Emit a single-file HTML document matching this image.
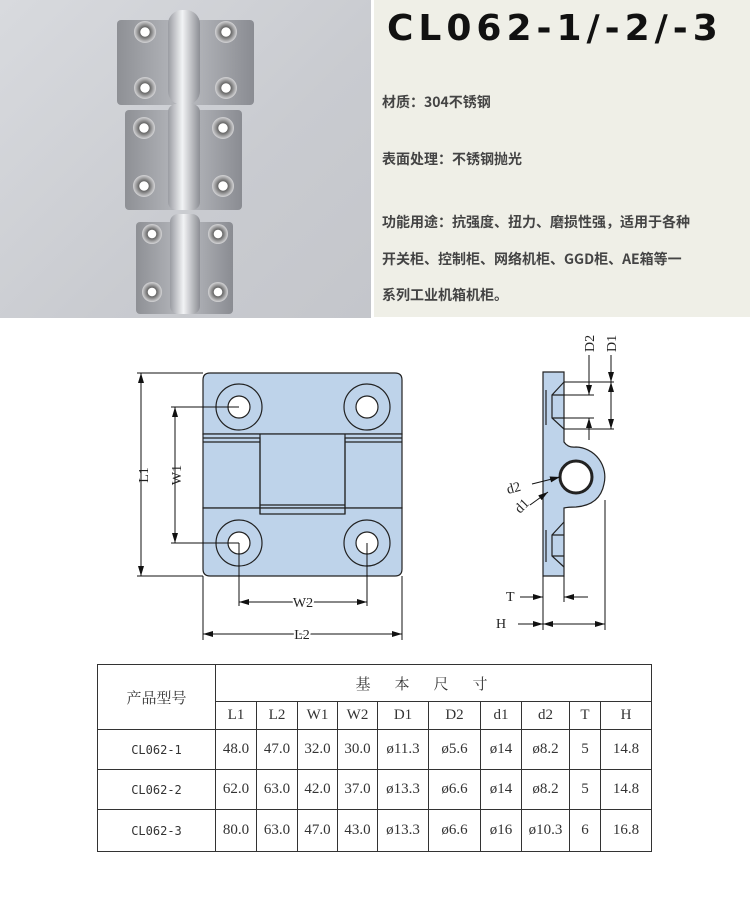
<!DOCTYPE html>
<html><head><meta charset="utf-8"><style>
body{margin:0;width:750px;height:906px;background:#fff;position:relative;overflow:hidden;font-family:"Liberation Sans","Noto Sans CJK SC",sans-serif}
.photo{position:absolute;left:0;top:0;width:371px;height:318px;background:linear-gradient(135deg,#d8dade,#c9cbd0 60%,#c4c6cb)}
.panel{position:absolute;left:374px;top:0;width:376px;height:317px;background:#efefe7}
.title{position:absolute;left:387px;top:8px;font-size:36px;font-weight:bold;letter-spacing:5px;color:#111;white-space:nowrap;font-family:"DejaVu Sans","Noto Sans CJK SC",sans-serif}
.t{position:absolute;left:382px;font-size:14px;color:#444;font-weight:bold;white-space:nowrap;font-family:"Noto Sans CJK SC",sans-serif}
table{position:absolute;left:97px;top:664px;border-collapse:collapse;font-family:"Liberation Serif","Noto Serif CJK SC",serif;font-size:15px;color:#333}
td{border:1.5px solid #333;text-align:center;padding:0}
</style></head><body>
<div class="photo">
<svg width="371" height="318">
<defs>
<linearGradient id="m" x1="0" x2="1"><stop offset="0" stop-color="#8e9095"/><stop offset=".5" stop-color="#b9bbc0"/><stop offset="1" stop-color="#8a8c92"/></linearGradient>
<linearGradient id="k" x1="0" x2="1"><stop offset="0" stop-color="#9a9ca2"/><stop offset=".45" stop-color="#f2f3f5"/><stop offset="1" stop-color="#8c8e94"/></linearGradient>
<radialGradient id="h"><stop offset="0" stop-color="#fff"/><stop offset=".4" stop-color="#fff"/><stop offset=".45" stop-color="#666"/><stop offset="1" stop-color="#d6d6d8"/></radialGradient>
</defs>
<rect x="117" y="20" width="137" height="85" rx="4" fill="url(#m)"/>
<rect x="168" y="10" width="32" height="95" rx="14" fill="url(#k)"/>
<rect x="125" y="110" width="117" height="100" rx="4" fill="url(#m)"/>
<rect x="168" y="104" width="32" height="106" rx="8" fill="url(#k)"/>
<rect x="136" y="222" width="97" height="92" rx="4" fill="url(#m)"/>
<rect x="170" y="214" width="30" height="100" rx="8" fill="url(#k)"/>
<g fill="url(#h)">
<circle cx="145" cy="32" r="11"/><circle cx="226" cy="32" r="11"/><circle cx="145" cy="88" r="11"/><circle cx="226" cy="88" r="11"/>
<circle cx="144" cy="128" r="11"/><circle cx="223" cy="128" r="11"/><circle cx="144" cy="186" r="11"/><circle cx="223" cy="186" r="11"/>
<circle cx="152" cy="234" r="10"/><circle cx="218" cy="234" r="10"/><circle cx="152" cy="292" r="10"/><circle cx="218" cy="292" r="10"/>
</g>
</svg></div>
<div class="panel"></div>
<div class="title">CL062-1/-2/-3</div>
<div class="t" style="top:92px">材质：304不锈钢</div>
<div class="t" style="top:149px">表面处理：不锈钢抛光</div>
<div class="t" style="top:212px">功能用途：抗强度、扭力、磨损性强，适用于各种</div>
<div class="t" style="top:249px">开关柜、控制柜、网络机柜、GGD柜、AE箱等一</div>
<div class="t" style="top:285px">系列工业机箱机柜。</div>

<svg width="750" height="906" style="position:absolute;left:0;top:0" font-family="Liberation Serif,serif" font-size="14">
<defs><marker id="a" viewBox="0 0 10 6" refX="10" refY="3" markerWidth="10" markerHeight="6" orient="auto-start-reverse"><path d="M0,0 L10,3 L0,6z" fill="#111"/></marker></defs>
<g stroke="#222" stroke-width="1.2" fill="#bed3ea">
<path d="M203,434 V380 q0,-7 7,-7 H395 q7,0 7,7 V434 Z"/>
<rect x="203" y="434" width="199" height="74"/>
<path d="M203,508 H402 V569 q0,7 -7,7 H210 q-7,0 -7,-7 Z"/>
<path d="M203,438 H260 V514 H345 V438 H402 M203,442 H260 M345,442 H402 M260,505 H345" fill="none"/>
<path d="M260,434 V514 M345,434 V514" fill="none"/>
<circle cx="239" cy="407" r="23"/><circle cx="239" cy="407" r="11" fill="#fff"/>
<circle cx="367" cy="407" r="23"/><circle cx="367" cy="407" r="11" fill="#fff"/>
<circle cx="239" cy="543" r="23"/><circle cx="239" cy="543" r="11" fill="#fff"/>
<circle cx="367" cy="543" r="23"/><circle cx="367" cy="543" r="11" fill="#fff"/>
<path d="M543,372 H564 V442 Q568,448 576,447 A30,30 0 0 1 604,484 Q600,505 576,507 Q568,507 564,508 V576 H543 Z"/>
<circle cx="576" cy="477" r="16" fill="#fff" stroke-width="3"/>
<path d="M564,382 L552,395 V418 L564,429 M552,395 H564 M552,418 H564 M546,390 V425" fill="none"/>
<path d="M564,522 L552,535 V556 L564,567 M552,535 H564 M552,556 H564 M546,530 V562" fill="none"/>
</g>
<g stroke="#111" stroke-width="1" fill="none">
<path d="M137,373 H203 M137,576 H203"/>
<line x1="141" y1="373" x2="141" y2="576" marker-start="url(#a)" marker-end="url(#a)"/>
<path d="M171,407 H239 M171,543 H239"/>
<line x1="175" y1="407" x2="175" y2="543" marker-start="url(#a)" marker-end="url(#a)"/>
<path d="M239,543 V606 M367,543 V606 M203,576 V640 M402,576 V640"/>
<line x1="239" y1="602" x2="367" y2="602" marker-start="url(#a)" marker-end="url(#a)"/>
<line x1="203" y1="634" x2="402" y2="634" marker-start="url(#a)" marker-end="url(#a)"/>
<path d="M564,382 H614 M564,395 H594 M564,418 H594 M564,429 H614"/>
<line x1="589" y1="355" x2="589" y2="395" marker-end="url(#a)"/>
<line x1="589" y1="440" x2="589" y2="418" marker-end="url(#a)"/>
<line x1="611" y1="355" x2="611" y2="382" marker-end="url(#a)"/>
<line x1="611" y1="382" x2="611" y2="429" marker-start="url(#a)" marker-end="url(#a)"/>
<path d="M543,576 V630 M564,576 V602 M605,500 V630"/>
<line x1="520" y1="597" x2="543" y2="597" marker-end="url(#a)"/>
<line x1="588" y1="597" x2="564" y2="597" marker-end="url(#a)"/>
<line x1="518" y1="624" x2="543" y2="624" marker-end="url(#a)"/>
<line x1="543" y1="624" x2="605" y2="624" marker-start="url(#a)" marker-end="url(#a)"/>
<line x1="532" y1="484" x2="560" y2="477" marker-end="url(#a)"/>
<line x1="530" y1="505" x2="548" y2="492" marker-end="url(#a)"/>
</g>
<g fill="#222">
<text x="0" y="0" transform="translate(148,475) rotate(-90)" text-anchor="middle">L1</text>
<text x="0" y="0" transform="translate(181,475) rotate(-90)" text-anchor="middle">W1</text>
<text x="303" y="607" text-anchor="middle" style="paint-order:stroke" stroke="#fff" stroke-width="4">W2</text>
<text x="302" y="639" text-anchor="middle" style="paint-order:stroke" stroke="#fff" stroke-width="4">L2</text>
<text transform="translate(594,352) rotate(-90)">D2</text>
<text transform="translate(616,352) rotate(-90)">D1</text>
<text transform="translate(508,494) rotate(-15)">d2</text>
<text transform="translate(520,514) rotate(-45)">d1</text>
<text x="506" y="601">T</text>
<text x="496" y="628">H</text>
</g>
</svg>

<table>
<tr style="height:37px"><td rowspan="2" style="width:117px;font-family:'Noto Serif CJK SC',serif;font-size:15px">产品型号</td><td colspan="10" style="letter-spacing:24px;font-size:15px">基本尺寸</td></tr>
<tr style="height:28px"><td style="width:40px">L1</td><td style="width:40px">L2</td><td style="width:39px">W1</td><td style="width:39px">W2</td><td style="width:50px">D1</td><td style="width:51px">D2</td><td style="width:40px">d1</td><td style="width:47px">d2</td><td style="width:30px">T</td><td style="width:50px">H</td></tr>
<tr style="height:40px"><td style="font-family:'DejaVu Sans Mono',monospace;font-size:12px">CL062-1</td><td>48.0</td><td>47.0</td><td>32.0</td><td>30.0</td><td>ø11.3</td><td>ø5.6</td><td>ø14</td><td>ø8.2</td><td>5</td><td>14.8</td></tr>
<tr style="height:40px"><td style="font-family:'DejaVu Sans Mono',monospace;font-size:12px">CL062-2</td><td>62.0</td><td>63.0</td><td>42.0</td><td>37.0</td><td>ø13.3</td><td>ø6.6</td><td>ø14</td><td>ø8.2</td><td>5</td><td>14.8</td></tr>
<tr style="height:42px"><td style="font-family:'DejaVu Sans Mono',monospace;font-size:12px">CL062-3</td><td>80.0</td><td>63.0</td><td>47.0</td><td>43.0</td><td>ø13.3</td><td>ø6.6</td><td>ø16</td><td>ø10.3</td><td>6</td><td>16.8</td></tr>
</table>
</body></html>
